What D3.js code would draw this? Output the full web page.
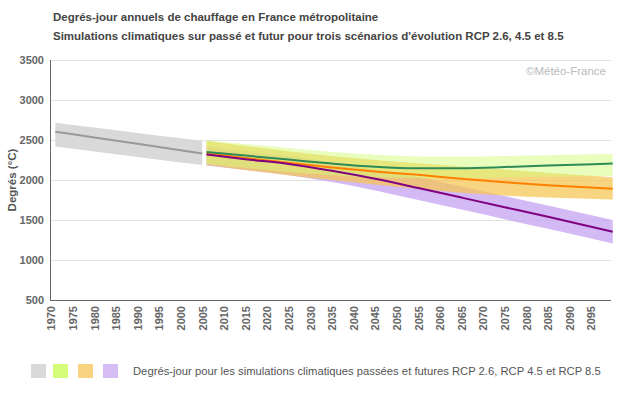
<!DOCTYPE html>
<html><head><meta charset="utf-8">
<script src="https://cdn.jsdelivr.net/npm/d3@7"></script>
<style>
html,body{margin:0;padding:0;background:#fff;}
svg{display:block;font-family:"Liberation Sans",Arial,sans-serif;}
</style></head>
<body>
<svg id="c" width="630" height="405"></svg>
<script>
// ---- data ----
const histYears = [1971, 1980, 1990, 2000, 2005];
const histMean  = [2604, 2532, 2452, 2372, 2332];
const histHigh  = [2716, 2655, 2588, 2522, 2488];
const histLow   = [2418, 2356, 2288, 2220, 2186];

const futYears = [2006, 2015, 2025, 2035, 2045, 2055, 2065, 2075, 2085, 2100];
const rcp26Mean = [2350, 2305, 2255, 2205, 2165, 2146, 2148, 2162, 2180, 2205];
const rcp26High = [2495, 2450, 2400, 2350, 2315, 2293, 2290, 2300, 2310, 2325];
const rcp26Low  = [2200, 2150, 2100, 2060, 2035, 2025, 2022, 2030, 2040, 2050];

const rcp45Mean = [2335, 2275, 2215, 2155, 2105, 2065, 2015, 1972, 1935, 1890];
const rcp45High = [2490, 2425, 2360, 2300, 2250, 2210, 2170, 2130, 2090, 2035];
const rcp45Low  = [2190, 2125, 2060, 2000, 1945, 1890, 1840, 1805, 1780, 1755];

const rcp85Mean = [2320, 2260, 2200, 2115, 2015, 1900, 1780, 1660, 1540, 1352];
const rcp85High = [2420, 2360, 2300, 2215, 2130, 2035, 1920, 1800, 1680, 1500];
const rcp85Low  = [2180, 2125, 2060, 1975, 1870, 1750, 1630, 1510, 1390, 1205];

const yTicks = [500, 1000, 1500, 2000, 2500, 3000, 3500];
const xTicks = d3.range(1970, 2100, 5);

const title1 = "Degrés-jour annuels de chauffage en France métropolitaine";
const title2 = "Simulations climatiques sur passé et futur pour trois scénarios d'évolution RCP 2.6, 4.5 et 8.5";
const yTitle = "Degrés (°C)";
const credit = "©Météo-France";
const legendText = "Degrés-jour pour les simulations climatiques passées et futures RCP 2.6, RCP 4.5 et RCP 8.5";

// ---- layout ----
const svg = d3.select("#c");
const x = d3.scaleLinear().domain([1970, 2099.6]).range([51, 611]);
const y = d3.scaleLinear().domain([500, 3500]).range([300, 60]);

// titles
svg.append("text").attr("x", 53).attr("y", 21).text(title1)
  .attr("font-size", 11.5).attr("font-weight", "bold").attr("fill", "#444");
svg.append("text").attr("x", 53).attr("y", 40).text(title2)
  .attr("font-size", 11.5).attr("font-weight", "bold").attr("fill", "#444");

// grid
svg.append("g").selectAll("line").data(yTicks.filter(d => d > 500)).join("line")
  .attr("x1", 51).attr("x2", 611)
  .attr("y1", d => y(d) + 0.5).attr("y2", d => y(d) + 0.5)
  .attr("stroke", "#e2e2e2").attr("stroke-width", 1);

// credit
svg.append("text").attr("x", 606).attr("y", 75).attr("text-anchor", "end")
  .text(credit).attr("font-size", 11.5).attr("fill", "#bbb");

function band(years, hi, lo) {
  return d3.area().x((d, i) => x(years[i])).y0((d, i) => y(lo[i])).y1((d, i) => y(hi[i]))
    .curve(d3.curveMonotoneX)(years);
}
function line(years, v) {
  return d3.line().x((d, i) => x(years[i])).y((d, i) => y(v[i]))
    .curve(d3.curveMonotoneX)(years);
}

// bands
svg.append("path").attr("d", band(histYears, histHigh, histLow)).attr("fill", "#d9d9d9");
svg.append("path").attr("d", band(futYears, rcp85High, rcp85Low)).attr("fill", "#c5a3f0").attr("fill-opacity", 0.75);
svg.append("path").attr("d", band(futYears, rcp45High, rcp45Low)).attr("fill", "#f5c550").attr("fill-opacity", 0.72);
svg.append("path").attr("d", band(futYears, rcp26High, rcp26Low)).attr("fill", "#d4fc79").attr("fill-opacity", 0.5);

// lines
svg.append("path").attr("d", line(histYears, histMean)).attr("fill", "none").attr("stroke", "#999").attr("stroke-width", 2);
svg.append("path").attr("d", line(futYears, rcp45Mean)).attr("fill", "none").attr("stroke", "#ff8000").attr("stroke-width", 2);
svg.append("path").attr("d", line(futYears, rcp26Mean)).attr("fill", "none").attr("stroke", "#2e8b57").attr("stroke-width", 2);
svg.append("path").attr("d", line(futYears, rcp85Mean)).attr("fill", "none").attr("stroke", "#800080").attr("stroke-width", 2);

// axes lines
svg.append("line").attr("x1", 50.5).attr("x2", 50.5).attr("y1", 60).attr("y2", 300.5).attr("stroke", "#666");
svg.append("line").attr("x1", 50).attr("x2", 611).attr("y1", 300.5).attr("y2", 300.5).attr("stroke", "#666");

// y labels
svg.append("g").selectAll("text").data(yTicks).join("text")
  .attr("x", 44).attr("y", d => y(d)).attr("dy", "0.35em").attr("text-anchor", "end")
  .text(d => d).attr("font-size", 11).attr("font-weight", "bold").attr("fill", "#666");

// y title
svg.append("text").attr("transform", "translate(12,180) rotate(-90)")
  .attr("text-anchor", "middle").attr("dy", "0.35em").text(yTitle)
  .attr("font-size", 11.5).attr("font-weight", "bold").attr("fill", "#555");

// x labels
svg.append("g").selectAll("text").data(xTicks).join("text")
  .attr("transform", d => `translate(${x(d) + 0.5},306) rotate(-90)`)
  .attr("text-anchor", "end").attr("dy", "0.35em")
  .text(d => d).attr("font-size", 11).attr("font-weight", "bold").attr("fill", "#666");

// legend
const legColors = ["#d9d9d9", "#d4fc79", "#f9d380", "#d5bdf3"];
const legX = [31, 53, 78, 103];
svg.append("g").selectAll("rect").data(legColors).join("rect")
  .attr("x", (d, i) => legX[i]).attr("y", 364).attr("width", 15).attr("height", 14)
  .attr("fill", d => d);
svg.append("text").attr("x", 133).attr("y", 371).attr("dy", "0.35em")
  .text(legendText).attr("font-size", 11.25).attr("fill", "#555");
</script>
</body></html>
